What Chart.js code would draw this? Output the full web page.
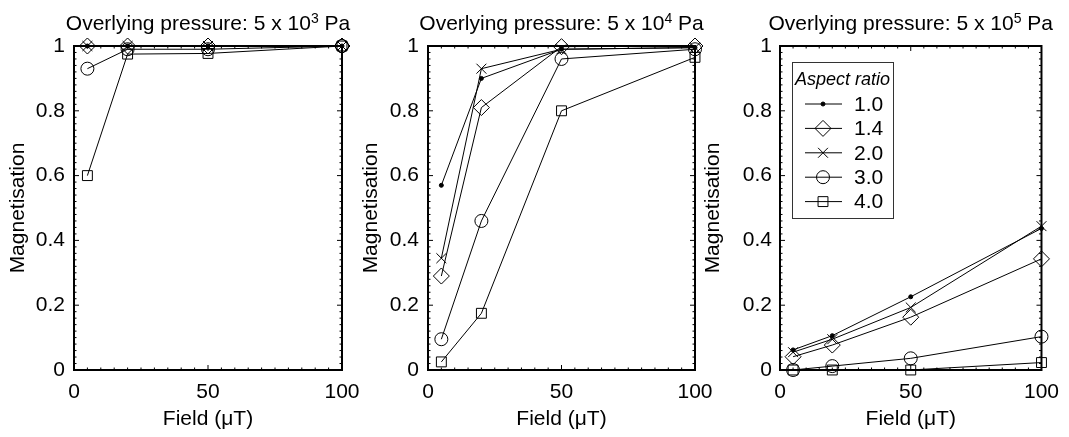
<!DOCTYPE html>
<html lang="en">
<head>
  <meta charset="UTF-8">
  <title>Magnetisation vs field</title>
  <script src="https://cdn.jsdelivr.net/npm/chart.js@4.4.3/dist/chart.umd.min.js"></script>
  <style>
    html, body { margin: 0; padding: 0; background: #fff; }
    #wrap { position: relative; width: 1069px; height: 437px; }
    #wrap canvas { position: absolute; left: 0; top: 0; }
  </style>
</head>
<body>
  <div id="wrap">
    <canvas id="c1" width="1069" height="437"></canvas>
    <canvas id="c2" width="1069" height="437"></canvas>
    <canvas id="c3" width="1069" height="437"></canvas>
  </div>
  <script>
    // x values (field, uT) and series names
    const fields = [5, 20, 50, 100];
    const aspectRatios = ['1.0', '1.4', '2.0', '3.0', '4.0'];

    // overlying pressure 5 x 10^3 Pa
    const p3_ar10 = [1.0, 1.0, 1.0, 1.0];
    const p3_ar14 = [1.0, 1.0, 1.0, 1.0];
    const p3_ar20 = [1.0, 1.0, 1.0, 1.0];
    const p3_ar30 = [0.93, 0.99, 0.99, 1.0];
    const p3_ar40 = [0.60, 0.975, 0.977, 1.0];

    // overlying pressure 5 x 10^4 Pa
    const p4_ar10 = [0.57, 0.90, 0.99, 0.995];
    const p4_ar14 = [0.29, 0.81, 0.998, 1.0];
    const p4_ar20 = [0.345, 0.93, 0.99, 0.995];
    const p4_ar30 = [0.095, 0.46, 0.96, 0.99];
    const p4_ar40 = [0.025, 0.175, 0.80, 0.965];

    // overlying pressure 5 x 10^5 Pa
    const p5_ar10 = [0.062, 0.106, 0.226, 0.437];
    const p5_ar14 = [0.041, 0.077, 0.163, 0.343];
    const p5_ar20 = [0.055, 0.095, 0.193, 0.444];
    const p5_ar30 = [0.0, 0.012, 0.036, 0.103];
    const p5_ar40 = [0.0, 0.0, 0.0, 0.023];

    const FONT = '"Liberation Sans", Arial, sans-serif';

    // marker look per aspect ratio
    const markers = [
      { style: 'circle', radius: 2, fill: '#000' },
      { style: 'rectRot', radius: 8, fill: 'rgba(0,0,0,0)' },
      { style: 'crossRot', radius: 7, fill: 'rgba(0,0,0,0)' },
      { style: 'circle', radius: 6.5, fill: 'rgba(0,0,0,0)' },
      { style: 'rect', radius: 7, fill: 'rgba(0,0,0,0)' }
    ];

    const panels = [
      { id: 'c1', exp: '3', series: [p3_ar10, p3_ar14, p3_ar20, p3_ar30, p3_ar40], left: 74, right: 342, yTitleX: 18, yPad: 9, legend: false },
      { id: 'c2', exp: '4', series: [p4_ar10, p4_ar14, p4_ar20, p4_ar30, p4_ar40], left: 428, right: 695, yTitleX: 371, yPad: 9, legend: false },
      { id: 'c3', exp: '5', series: [p5_ar10, p5_ar14, p5_ar20, p5_ar30, p5_ar40], left: 780, right: 1048, yTitleX: 713, yPad: 8, legend: true }
    ];

    // frame + inward ticks on all four sides
    const framePlugin = {
      id: 'frame',
      beforeDatasetsDraw(chart) {
        const { ctx, chartArea: a, scales: { x, y } } = chart;
        ctx.save();
        ctx.strokeStyle = '#000';
        ctx.lineWidth = 1;
        ctx.beginPath();
        for (let k = 0; k <= 20; k++) {
          const px = x.getPixelForValue(k * 5);
          const len = k % 10 === 0 ? 5 : 2.5;
          ctx.moveTo(px, a.bottom); ctx.lineTo(px, a.bottom - len);
          ctx.moveTo(px, a.top); ctx.lineTo(px, a.top + len);
        }
        for (let k = 0; k <= 50; k++) {
          const py = y.getPixelForValue(k * 0.02);
          const len = k % 10 === 0 ? 5 : 2.5;
          ctx.moveTo(a.left, py); ctx.lineTo(a.left + len, py);
          ctx.moveTo(a.right, py); ctx.lineTo(a.right - len, py);
        }
        ctx.stroke();
        ctx.lineWidth = 2;
        ctx.strokeRect(a.left, a.top, a.right - a.left, a.bottom - a.top);
        ctx.restore();
      }
    };

    // title with superscript exponent
    const titlePlugin = {
      id: 'supTitle',
      afterDraw(chart, args, opts) {
        const { ctx, chartArea: a } = chart;
        const base = 'Overlying pressure: 5 x 10';
        const tail = ' Pa';
        ctx.save();
        ctx.fillStyle = '#000';
        ctx.textBaseline = 'alphabetic';
        ctx.font = '21px ' + FONT;
        const wb = ctx.measureText(base).width;
        const wt = ctx.measureText(tail).width;
        ctx.font = '14px ' + FONT;
        const ws = ctx.measureText(opts.exp).width;
        let x0 = (a.left + a.right) / 2 - (wb + ws + wt) / 2;
        ctx.font = '21px ' + FONT;
        ctx.fillText(base, x0, 30);
        ctx.font = '14px ' + FONT;
        ctx.fillText(opts.exp, x0 + wb, 23);
        ctx.font = '21px ' + FONT;
        ctx.fillText(tail, x0 + wb + ws, 30);
        ctx.restore();
      }
    };

    // boxed legend inside the chart area
    const legendPlugin = {
      id: 'boxLegend',
      afterDraw(chart, args, opts) {
        if (!opts.show) return;
        const { ctx, chartArea: a } = chart;
        const bx = a.left + 12, by = a.top + 16, bw = 101, bh = 156;
        ctx.save();
        ctx.strokeStyle = '#333';
        ctx.lineWidth = 1;
        ctx.strokeRect(bx + 0.5, by + 0.5, bw, bh);
        ctx.fillStyle = '#000';
        ctx.font = 'italic 18px ' + FONT;
        ctx.textBaseline = 'alphabetic';
        ctx.fillText('Aspect ratio', bx + 3, by + 23);
        ctx.font = '21px ' + FONT;
        ctx.textBaseline = 'middle';
        chart.data.datasets.forEach((ds, i) => {
          const cy = by + 42 + i * 24.4;
          ctx.strokeStyle = '#000';
          ctx.beginPath();
          ctx.moveTo(bx + 13, cy); ctx.lineTo(bx + 50, cy);
          ctx.stroke();
          const m = markers[i];
          ctx.fillStyle = m.fill;
          Chart.helpers.drawPoint(ctx, { pointStyle: m.style, radius: m.radius, rotation: 0, borderWidth: 1 }, bx + 31, cy);
          ctx.fillStyle = '#000';
          ctx.fillText(ds.label, bx + 62, cy + 1);
        });
        ctx.restore();
      }
    };

    panels.forEach(p => {
      const padLeft = p.yTitleX - 12.6;
      new Chart(document.getElementById(p.id), {
        type: 'line',
        data: {
          datasets: p.series.map((vals, i) => ({
            label: aspectRatios[i],
            data: fields.map((f, j) => ({ x: f, y: vals[j] })),
            borderColor: '#000',
            borderWidth: 1,
            pointStyle: markers[i].style,
            pointRadius: markers[i].radius,
            pointBackgroundColor: markers[i].fill,
            pointBorderColor: '#000',
            pointBorderWidth: 1,
            tension: 0,
            clip: false
          }))
        },
        options: {
          responsive: false,
          animation: false,
          events: [],
          layout: { padding: { left: padLeft, right: 1069 - p.right, top: 46, bottom: 0 } },
          plugins: {
            legend: { display: false },
            tooltip: { enabled: false },
            supTitle: { exp: p.exp },
            boxLegend: { show: p.legend }
          },
          scales: {
            x: {
              type: 'linear', min: 0, max: 100,
              grid: { display: false, drawTicks: false },
              border: { display: false },
              ticks: { stepSize: 50, color: '#000', font: { family: FONT, size: 21 }, padding: 10, maxRotation: 0 },
              title: { display: true, text: 'Field (μT)', color: '#000', font: { family: FONT, size: 21 }, padding: { top: 0, bottom: 5 } },
              afterFit: s => { s.height = 67; }
            },
            y: {
              type: 'linear', min: 0, max: 1,
              grid: { display: false, drawTicks: false },
              border: { display: false },
              ticks: { stepSize: 0.2, color: '#000', font: { family: FONT, size: 21 }, padding: p.yPad,
                       callback: v => String(Math.round(v * 10) / 10) },
              title: { display: true, text: 'Magnetisation', color: '#000', font: { family: FONT, size: 21 }, padding: { top: 0, bottom: 0 } },
              afterFit: s => { s.width = p.left - padLeft; }
            }
          }
        },
        plugins: [framePlugin, titlePlugin, legendPlugin]
      });
    });
  </script>
</body>
</html>
